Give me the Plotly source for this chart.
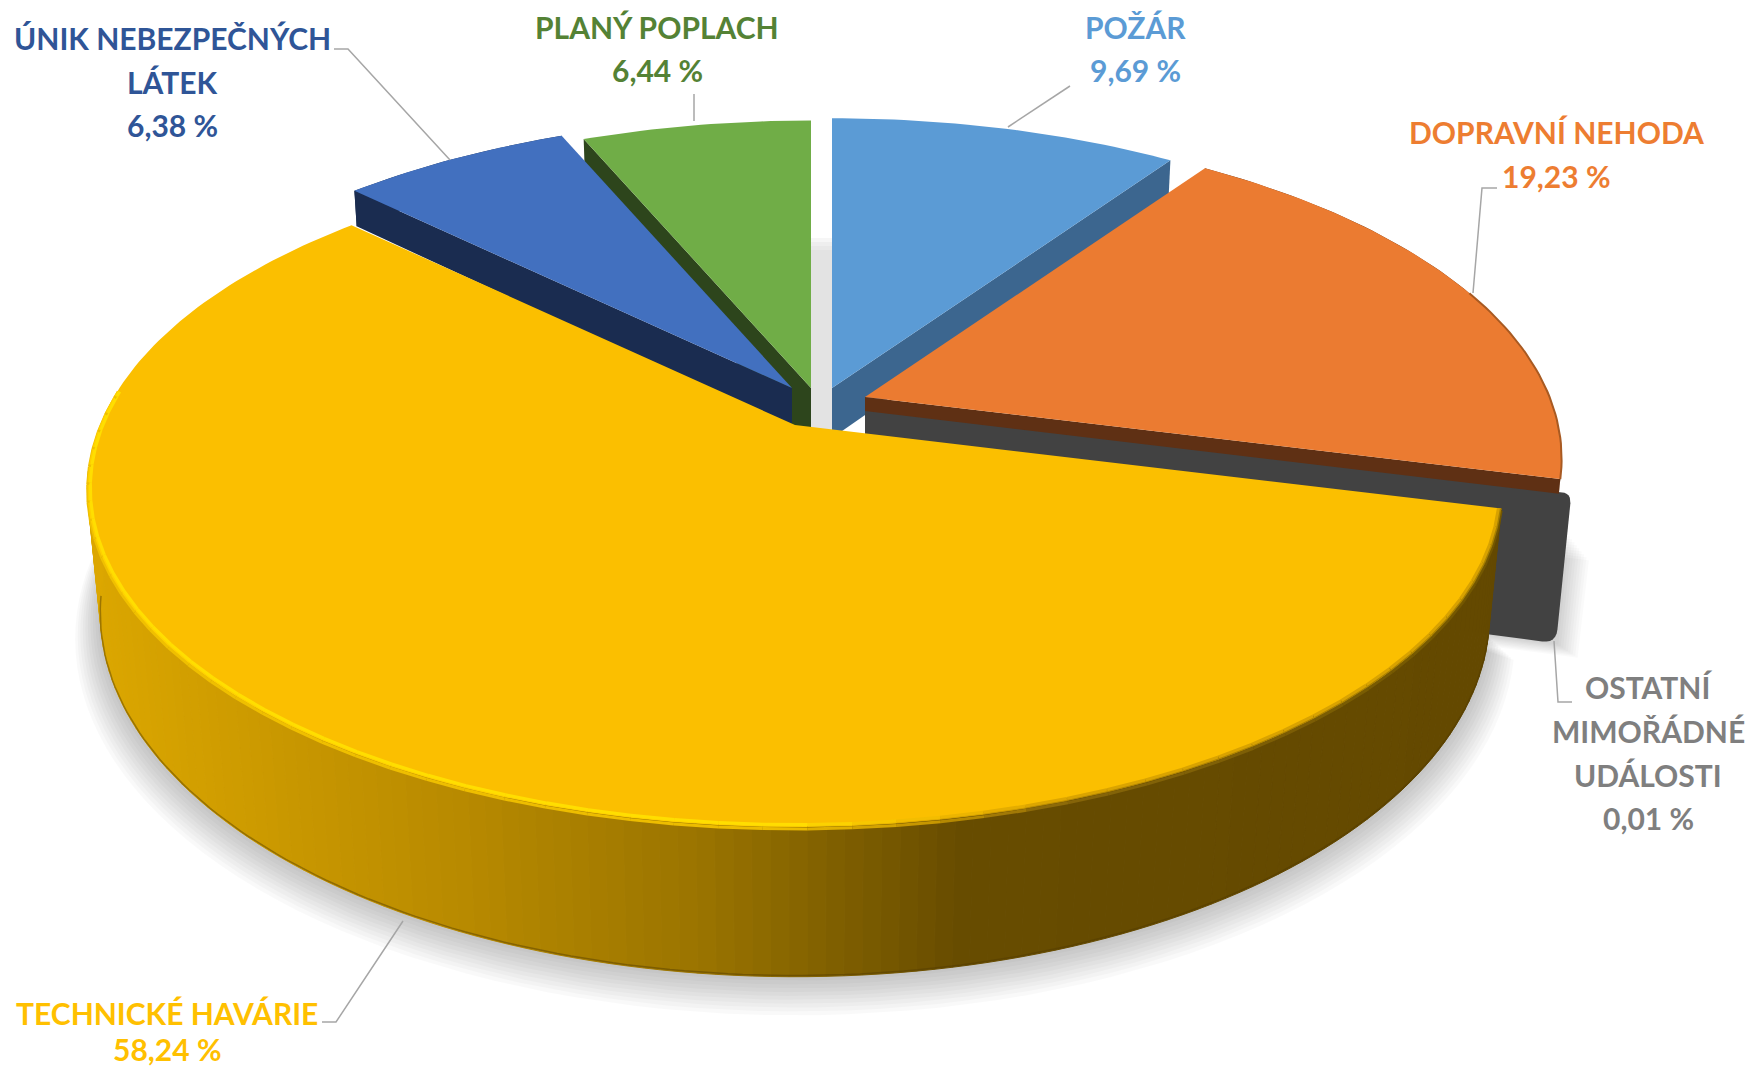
import math
import plotly.graph_objects as go

# ---------- data ----------
categories = ["POŽÁR", "DOPRAVNÍ NEHODA", "OSTATNÍ MIMOŘÁDNÉ UDÁLOSTI",
              "TECHNICKÉ HAVÁRIE", "ÚNIK NEBEZPEČNÝCH LÁTEK", "PLANÝ POPLACH"]
values = [9.69, 19.23, 0.01, 58.24, 6.38, 6.44]
label_lines = [["POŽÁR"], ["DOPRAVNÍ NEHODA"], ["OSTATNÍ", "MIMOŘÁDNÉ", "UDÁLOSTI"],
               ["TECHNICKÉ HAVÁRIE"], ["ÚNIK NEBEZPEČNÝCH", "LÁTEK"], ["PLANÝ POPLACH"]]

# ---------- styles / layout ----------
W, H = 1755, 1071
A, B, K = 695.0, 326.0, 0.188     # perspective projection of the unit disc
LEAN = 1.45e-4
top_colors = ["#5B9BD5", "#EB7B31", "#424242", "#FBBF00", "#4270BF", "#70AD47"]
side_colors = ["#3C668F", "#5F3014", "#424242", "#644900", "#1A2C50", "#2D451C"]
text_colors = ["#5B9BD5", "#ED7D31", "#7F7F7F", "#FFC000", "#2F5597", "#548235"]
apex = [(832, 388), (865, 397), (865, 410), (795, 425), (792, 388), (811, 388)]
radius = [0.98, 0.985, 1.0, 1.0, 0.985, 0.97]
height = [50, 14, 143, 122, 40, 60]
label_x = [1135, 1556, 1648, 167, 172, 657]
label_y = [[27, 70], [132, 176], [687, 731, 775, 818], [1013, 1049], [38, 82, 125], [27, 70]]
leaders = [[(1070, 86), (1008, 127)],
           [(1497, 188), (1482, 188), (1473, 293)],
           [(1554, 641), (1558, 702), (1572, 702)],
           [(322, 1022), (336, 1022), (403, 921)],
           [(334, 49), (348, 49), (450, 160)],
           [(694, 94), (694, 121)]]
FONT = "Lato"
FONT_SIZE = 30


def project(theta, r, c, depth=0.0):
    t = math.radians(theta)
    X, Y = r * math.sin(t), r * math.cos(t)
    den = 1 + K * Y
    x = A * X / den
    y = -B * Y / den + depth / den
    x *= 1 - LEAN * depth / den
    return c[0] + x, c[1] + y


def arc(t0, t1, r, c, depth=0.0, step=1.0):
    n = max(2, int(abs(t1 - t0) / step) + 1)
    return [project(t0 + (t1 - t0) * i / (n - 1), r, c, depth) for i in range(n)]


def lerp_color(x, stops):
    if x <= stops[0][0]:
        return stops[0][1]
    for (x0, c0), (x1, c1) in zip(stops, stops[1:]):
        if x <= x1:
            f = (x - x0) / (x1 - x0)
            a = [int(c0[i:i + 2], 16) for i in (1, 3, 5)]
            b = [int(c1[i:i + 2], 16) for i in (1, 3, 5)]
            return "#" + "".join("%02X" % round(p + (q - p) * f) for p, q in zip(a, b))
    return stops[-1][1]


def rounded(points, rad):
    out = []
    n = len(points)
    for i, p in enumerate(points):
        rr = rad[i]
        if rr <= 0:
            out.append(p)
            continue
        a, b = points[i - 1], points[(i + 1) % n]
        la = math.dist(p, a)
        lb = math.dist(p, b)
        s = (p[0] + (a[0] - p[0]) * rr / la, p[1] + (a[1] - p[1]) * rr / la)
        e = (p[0] + (b[0] - p[0]) * rr / lb, p[1] + (b[1] - p[1]) * rr / lb)
        for j in range(7):
            u = j / 6
            out.append(((1 - u) ** 2 * s[0] + 2 * u * (1 - u) * p[0] + u ** 2 * e[0],
                        (1 - u) ** 2 * s[1] + 2 * u * (1 - u) * p[1] + u ** 2 * e[1]))
    return out


fig = go.Figure()


def poly(points, color, line=None, lw=0.0):
    xs = [p[0] for p in points] + [points[0][0]]
    ys = [p[1] for p in points] + [points[0][1]]
    fig.add_trace(go.Scatter(x=xs, y=ys, mode="lines", fill="toself", fillcolor=color,
                             line=dict(color=line or "rgba(0,0,0,0)", width=lw),
                             hoverinfo="skip", showlegend=False))


def stroke(points, color, width):
    fig.add_trace(go.Scatter(x=[p[0] for p in points], y=[p[1] for p in points], mode="lines",
                             line=dict(color=color, width=width),
                             hoverinfo="skip", showlegend=False))


# angles from the values, clockwise from twelve o'clock
total = sum(values)
angles = []
acc = 0.0
for v in values:
    angles.append((acc, acc + v / total * 360))
    acc += v / total * 360

POZAR, NEHODA, OSTATNI, HAVARIE, UNIK, PLANY = range(6)


def side(i, theta, color=None):
    c, r, h = apex[i], radius[i], height[i]
    pts = [c, project(theta, r, c), project(theta, r, c, h), (c[0], c[1] + h)]
    poly(pts, color or side_colors[i])


def outer_wall(i):
    c, r, h = apex[i], radius[i], height[i]
    t0, t1 = angles[i]
    poly(arc(t0, t1, r, c) + arc(t1, t0, r, c, h), side_colors[i])


def top(i):
    c, r = apex[i], radius[i]
    t0, t1 = angles[i]
    poly([c] + arc(t0, t1, r, c), top_colors[i])


# ground shadow of the large slice
c3, h3 = apex[HAVARIE], height[HAVARIE]
t30, t31 = angles[HAVARIE]
for i in range(10, 0, -1):
    shifted = (c3[0], c3[1] + i * 2.0)
    poly([c3] + arc(t30, 285, 1 + i * 0.0035, shifted, h3, 2.0), "rgba(0,0,0,0.022)")

# soft shade in the gap between the green and light blue slices
gx0, gx1 = apex[PLANY][0], apex[POZAR][0]
gy1 = apex[POZAR][1] + height[POZAR]
for i, col in enumerate(["#F6F6F6", "#EEEEEE", "#E8E8E8", "#E3E3E3"]):
    poly([(gx0, apex[POZAR][1] - 150 + i * 4), (gx1, apex[POZAR][1] - 150 + i * 4), (gx1, gy1), (gx0, gy1)], col)

# green slice
side(PLANY, angles[PLANY][0])
top(PLANY)
# dark blue slice
outer_wall(UNIK)
side(UNIK, angles[UNIK][0])
top(UNIK)
# light blue slice
side(POZAR, angles[POZAR][0])
side(POZAR, angles[POZAR][1])
top(POZAR)

# grey slab, with its shadow
g = apex[OSTATNI]
gt = angles[OSTATNI][0]
g_out_top = project(gt, radius[OSTATNI], g)
g_out_bot = project(gt, radius[OSTATNI], g, height[OSTATNI])
g_base = (g[0], g[1] + height[OSTATNI])
for i in range(9, 0, -1):
    poly([(g[0], g[1] + 60), (g_out_top[0] - 4 + i * 2.4, g_out_top[1] + 40 + i * 3),
          (g_out_bot[0] + i * 2.4, g_out_bot[1] + i * 1.6),
          (g_base[0], g_base[1] + i * 1.6)], "rgba(0,0,0,0.02)")
poly(rounded([g, g_out_top, g_out_bot, g_base], [0, 10, 14, 0]), side_colors[OSTATNI])

# orange slice
outer_wall(NEHODA)
side(NEHODA, angles[NEHODA][1])
top(NEHODA)
orange_rim = arc(angles[NEHODA][0] + 35, angles[NEHODA][1], radius[NEHODA], apex[NEHODA])
stroke(orange_rim, "#A85A22", 2)

# large slice: outer wall as shaded strips
wall_stops = [(90, "#DCA700"), (460, "#B88A00"), (700, "#9A7400"), (960, "#674C00"), (1500, "#644900")]
step = 1.25
t = t30
while t < 262:
    te = min(t + step, 262)
    seg = arc(t, te, 1.0, c3, 0, 1.0) + arc(te, t, 1.0, c3, h3, 1.0)
    xm = sum(p[0] for p in seg) / len(seg)
    col = lerp_color(xm, wall_stops)
    poly(seg, col, col, 1)
    t = te
# straight silhouette from the left extreme of the top face to the wall foot
poly([project(262, 1.0, c3), project(276, 1.0, c3), project(262, 1.0, c3, h3)],
     wall_stops[0][1], wall_stops[0][1], 1)
stroke(arc(t30, 262, 1.0, c3, h3 - 1), "rgba(80,58,0,0.45)", 1.5)
top(HAVARIE)

# bevel along the top edge of the large slice
soft_stops = [(90, "#F0C000"), (780, "#ECBC00"), (930, "#C49400"), (1060, "#86650A"), (1500, "#735700")]
mid_stops = [(90, "#FFD000"), (780, "#FFD000"), (930, "#DDA800"), (1060, "#B48600"), (1500, "#A88000")]
rim_stops = [(90, "#FFDE00"), (780, "#FFDE00"), (930, "#F2BA00"), (1060, "#DAA400"), (1500, "#D8A200")]
t = t30
seg_step = 3.0
while t < 276:
    te = min(t + seg_step, 276)
    seg = arc(t, te, 0.996, c3, 0, 1.0)
    xm = sum(p[0] for p in seg) / len(seg)
    stroke(arc(t, te, 1.0, c3, 2, 1.0), lerp_color(xm, soft_stops), 3)
    stroke(arc(t, te, 0.998, c3, 0, 1.0), lerp_color(xm, mid_stops), 3)
    stroke(seg, lerp_color(xm, rim_stops), 3)
    t = te

# leader lines
for pts in leaders:
    stroke(pts, "#A6A6A6", 1.5)

# labels
annotations = []
for i, cat in enumerate(categories):
    pct = f"{values[i]:.2f}".replace(".", ",") + " %"
    for line, y in zip(label_lines[i] + [pct], label_y[i]):
        annotations.append(dict(x=label_x[i], y=y, xref="x", yref="y", text=line,
                                showarrow=False, align="center", xanchor="center", yanchor="middle",
                                font=dict(family=FONT, size=FONT_SIZE, color=text_colors[i], weight=700)))

fig.update_layout(width=W, height=H, margin=dict(l=0, r=0, t=0, b=0), autosize=False,
                  paper_bgcolor="white", plot_bgcolor="white", showlegend=False,
                  xaxis=dict(range=[0, W], visible=False, fixedrange=True),
                  yaxis=dict(range=[H, 0], visible=False, fixedrange=True),
                  annotations=annotations)

fig.write_html("out.html", config={"displayModeBar": False},
               post_script="document.body.style.margin='0';document.body.style.overflow='hidden';")
